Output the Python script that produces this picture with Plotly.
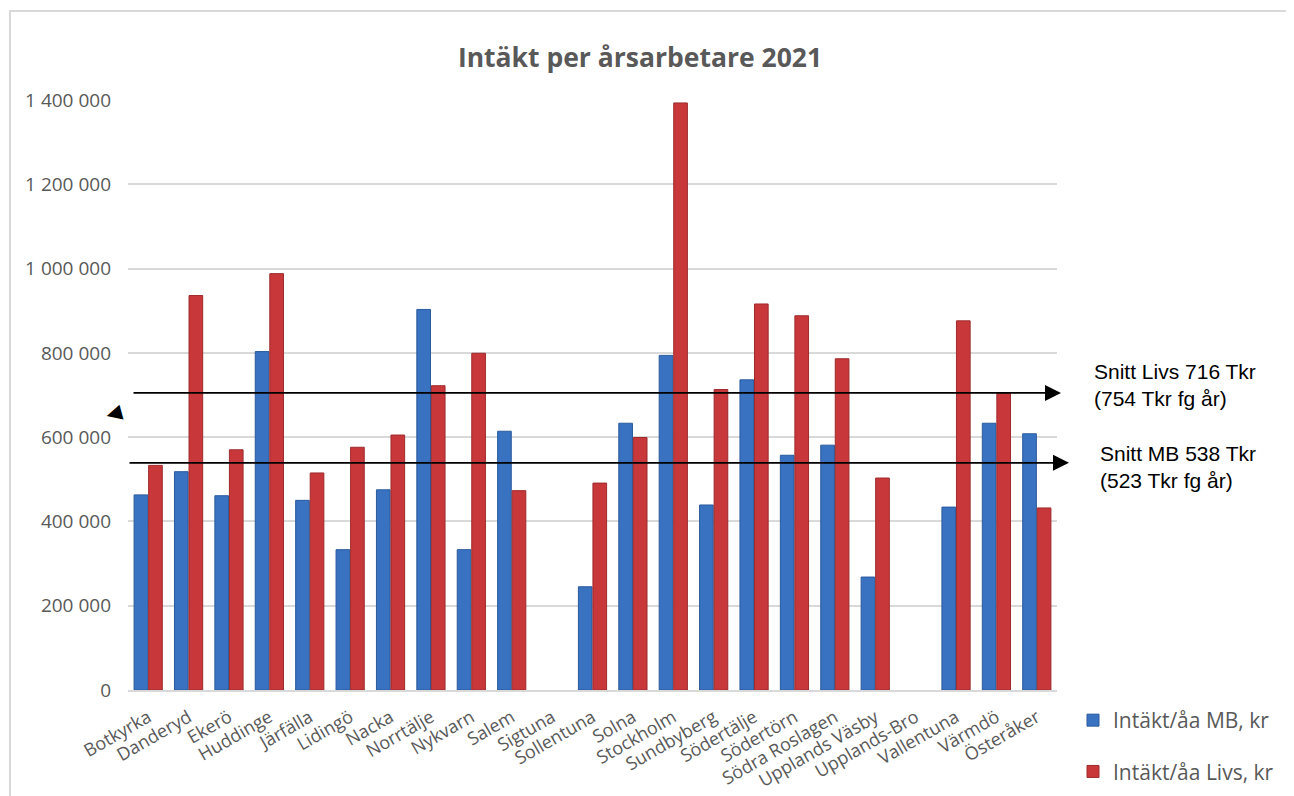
import plotly.graph_objects as go

categories = ["Botkyrka", "Danderyd", "Ekerö", "Huddinge", "Järfälla", "Lidingö", "Nacka",
              "Norrtälje", "Nykvarn", "Salem", "Sigtuna", "Sollentuna", "Solna", "Stockholm",
              "Sundbyberg", "Södertälje", "Södertörn", "Södra Roslagen", "Upplands Väsby",
              "Upplands-Bro", "Vallentuna", "Värmdö", "Österåker"]
mb_values = [463000, 518000, 461000, 803000, 450000, 333000, 475000, 903000, 333000, 614000,
             None, 245000, 633000, 794000, 439000, 736000, 557000, 581000, 268000,
             None, 434000, 633000, 608000]
livs_values = [533000, 936000, 570000, 988000, 515000, 576000, 605000, 722000, 799000, 473000,
               None, 491000, 599000, 1393000, 713000, 916000, 888000, 786000, 503000,
               None, 876000, 704000, 432000]
y_ticks = [0, 200000, 400000, 600000, 800000, 1000000, 1200000, 1400000]
y_tick_labels = ["0", "200 000", "400 000", "600 000", "800 000", "1 000 000", "1 200 000", "1 400 000"]
avg_levels = [705000, 539000]  # drawn levels of the Livs and MB average arrows
avg_texts = ["Snitt Livs 716 Tkr<br>(754 Tkr fg år)", "Snitt MB 538 Tkr<br>(523 Tkr fg år)"]

OFF = 8  # page body margin
W, H = 1294 - OFF, 796 - OFF
L, R, T, B = 128 - OFF, 1057 - OFF, 100 - OFF, 690 - OFF

def px(x):
    return (x - OFF - L) / (R - L)

def py(y):
    return (B - (y - OFF)) / (B - T)

fig = go.Figure()
fig.add_trace(go.Bar(x=categories, y=mb_values, name="Intäkt/åa MB, kr",
                     marker=dict(color="#3872C1", line=dict(color="#2A5A9C", width=1)),
                     legendgroup="a"))
fig.add_trace(go.Bar(x=categories, y=livs_values, name="Intäkt/åa Livs, kr",
                     marker=dict(color="#C8383A", line=dict(color="#9E2A2C", width=1)),
                     legendgroup="b"))

# average arrows
tips = [1061, 1069]
starts = [132, 128]
for lvl, tip, st in zip(avg_levels, tips, starts):
    fig.add_annotation(xref="x domain", x=px(tip), yref="y", y=lvl,
                       axref="x domain", ax=px(st), ayref="y", ay=lvl,
                       showarrow=True, arrowhead=2, arrowsize=2.0, arrowwidth=1.6,
                       arrowcolor="black", text="")

# stray left-pointing triangle
fig.add_annotation(xref="paper", x=px(101), yref="paper", y=py(412), text="◀",
                   showarrow=False, textangle=-15,
                   font=dict(size=20, color="black", family="DejaVu Sans"))

fig.add_annotation(xref="paper", x=px(1092), yref="paper", y=py(385), text=avg_texts[0],
                   showarrow=False, xanchor="left", align="left",
                   font=dict(size=21, color="black", family="Liberation Sans"))
fig.add_annotation(xref="paper", x=px(1098), yref="paper", y=py(467), text=avg_texts[1],
                   showarrow=False, xanchor="left", align="left",
                   font=dict(size=21, color="black", family="Liberation Sans"))

# outer chart frame
fig.add_shape(type="rect", xref="paper", yref="paper",
              x0=px(10), x1=px(1310), y0=py(810), y1=py(11),
              line=dict(color="#D9D9D9", width=2), layer="below")

fig.update_layout(
    width=W, height=H,
    margin=dict(l=L, r=W - R, t=T, b=H - B, autoexpand=False),
    paper_bgcolor="white", plot_bgcolor="white",
    barmode="group", bargap=0.28, bargroupgap=0.06,
    title=dict(text="<b>Intäkt per årsarbetare 2021</b>", xref="paper", x=px(640), xanchor="center",
               y=1 - (58 - OFF) / H, yanchor="middle",
               font=dict(family="Open Sans", size=26.5, color="#595959")),
    font=dict(family="Open Sans", color="#595959"),
    showlegend=True,
    legend=dict(x=px(1073), y=py(700), xanchor="left", yanchor="top",
                font=dict(size=21, color="#595959"), tracegroupgap=21, itemwidth=30,
                traceorder="grouped", bgcolor="rgba(0,0,0,0)"),
    xaxis=dict(tickangle=-30, tickfont=dict(size=18, color="#595959"),
               showline=True, linecolor="#D9D9D9", linewidth=2, ticks="",
               automargin=False, ticklabelstandoff=8,
               categoryorder="array", categoryarray=categories),
    yaxis=dict(range=[0, 1400000], tickvals=y_ticks, ticktext=y_tick_labels,
               tickfont=dict(size=19, color="#595959"), showgrid=True,
               gridcolor="#D9D9D9", gridwidth=2, zeroline=False, ticks="",
               automargin=False, ticklabelstandoff=16),
)

fig.write_html("out.html")
